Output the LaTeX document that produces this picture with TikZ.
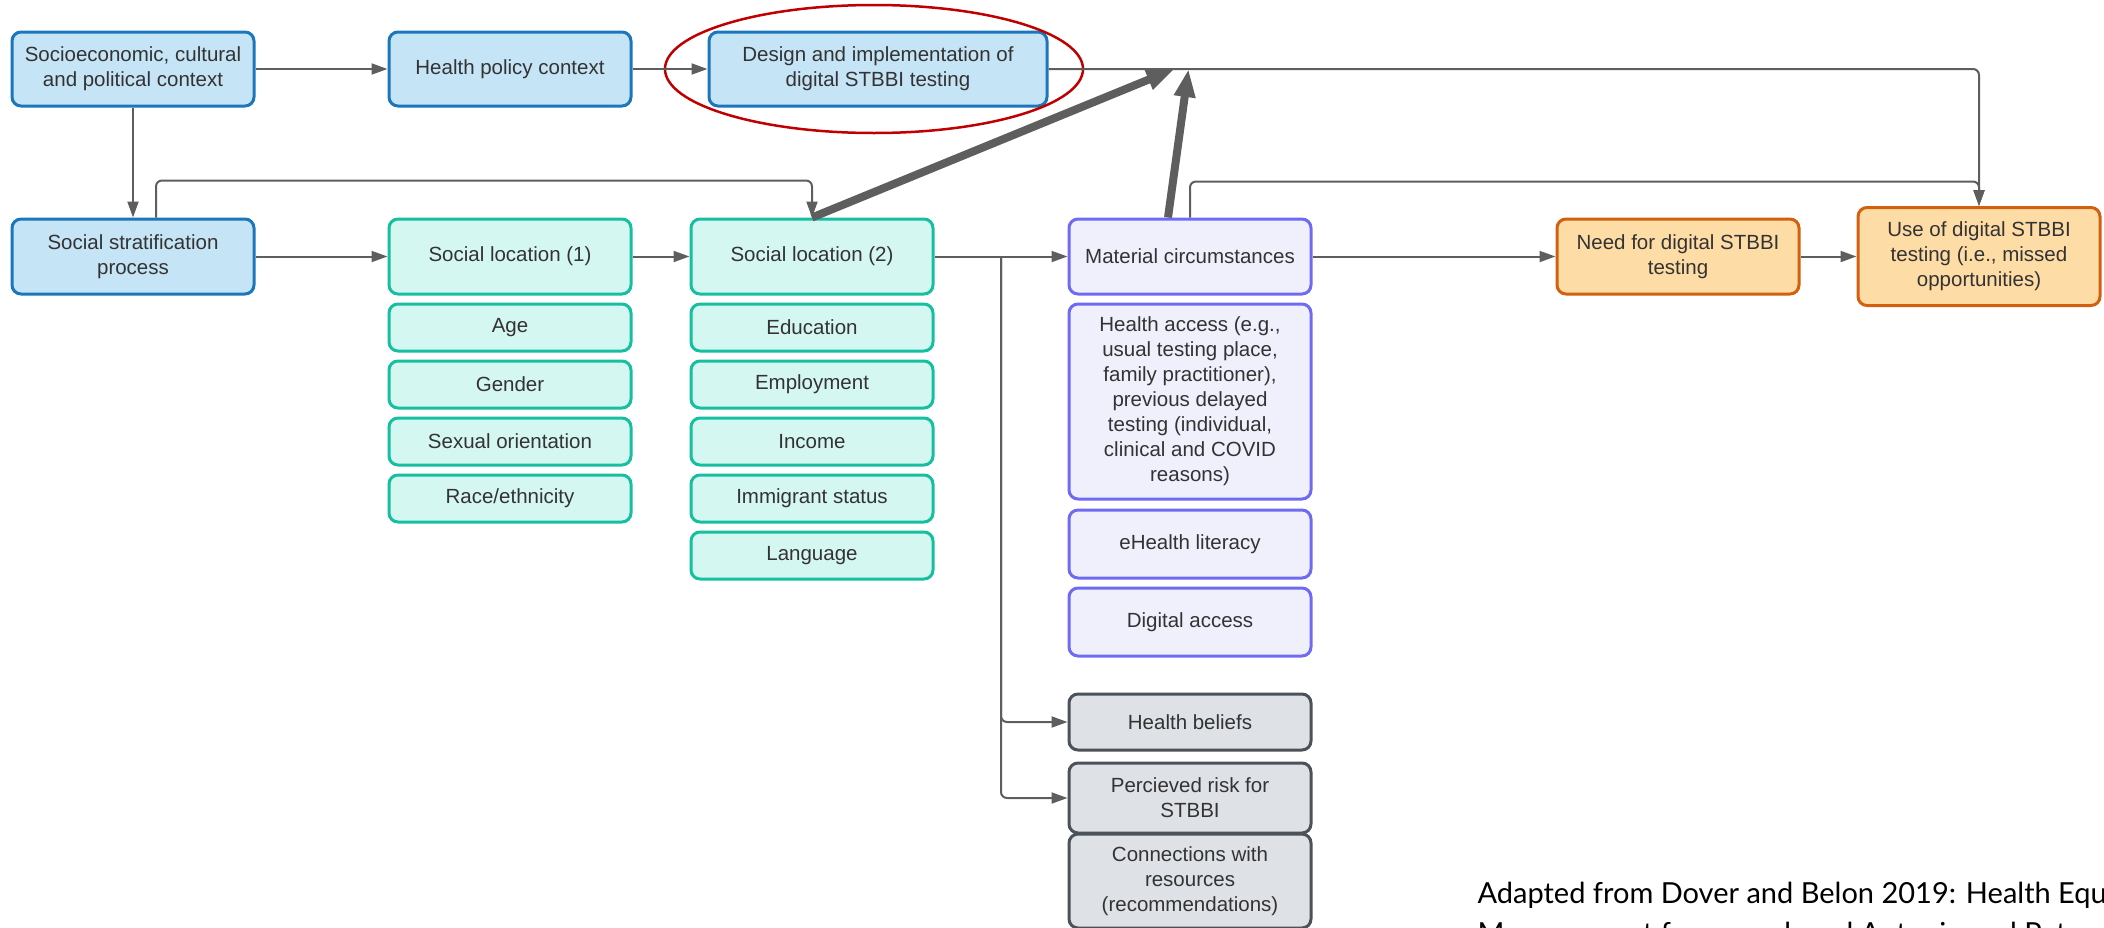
\documentclass[tikz,border=0pt]{standalone}
\usepackage{fontspec}
\setmainfont{Liberation Sans}
\newfontfamily\notefont{Lato}
\usepackage{tikz}
\usetikzlibrary{positioning,arrows.meta,calc,shapes.geometric}
\definecolor{ctxfill}{HTML}{C5E4F6}
\definecolor{ctxline}{HTML}{1B76BC}
\definecolor{locfill}{HTML}{D5F7F2}
\definecolor{locline}{HTML}{15BFA0}
\definecolor{matfill}{HTML}{F0F0FD}
\definecolor{matline}{HTML}{6E6BF2}
\definecolor{psyfill}{HTML}{DEE1E6}
\definecolor{psyline}{HTML}{4B525A}
\definecolor{resfill}{HTML}{FEDCA6}
\definecolor{resline}{HTML}{D2600F}
\definecolor{ink}{HTML}{333333}
\definecolor{linkgray}{HTML}{5E5E5E}
\definecolor{ringred}{HTML}{C00000}

\begin{document}
\begin{tikzpicture}[x=1pt,y=1pt,
  font=\fontsize{20.5}{25}\selectfont, >={Triangle[length=16pt,width=11pt]},
  box/.style={draw,rounded corners=9pt,line width=3pt,align=center,text=ink,
              minimum width=242pt,inner sep=4pt},
  ctx/.style={box,fill=ctxfill,draw=ctxline,minimum height=74pt},
  loc/.style={box,fill=locfill,draw=locline,minimum height=47pt},
  mat/.style={box,fill=matfill,draw=matline,minimum height=68pt},
  psy/.style={box,fill=psyfill,draw=psyline},
  res/.style={box,fill=resfill,draw=resline},
  link/.style={draw=linkgray,line width=2pt,->},
  heavy/.style={draw=linkgray,line width=8pt,-{Triangle[length=28pt,width=20pt]}}]
  \useasboundingbox (0,0) rectangle (2104,-927);
  % --- context row ---
  \node[ctx] (socio) at (133,-69) {Socioeconomic, cultural\\and political context};
  \node[ctx,right=132pt of socio] (policy) {Health policy context};
  \node[ctx,right=75pt of policy,minimum width=338pt] (design) {Design and implementation of\\digital STBBI testing};
  \node[draw=ringred,line width=2.5pt,ellipse,minimum width=418pt,minimum height=128pt]
        (ring) at ($(design)+(-4,0)$) {};
  % --- main pathway row ---
  \node[ctx,minimum height=75pt,below=110pt of socio] (strat) {Social stratification\\process};
  \node[loc,minimum height=75pt,right=132pt of strat] (loc1) {Social location (1)};
  \node[loc,minimum height=75pt,right=57pt of loc1] (loc2) {Social location (2)};
  \node[mat,minimum height=75pt,right=133pt of loc2] (mc) {Material circumstances};
  \node[res,minimum height=75pt,right=243pt of mc] (need) {Need for digital STBBI\\testing};
  \node[res,minimum height=98pt,right=56pt of need] (use) {Use of digital STBBI\\testing (i.e., missed\\opportunities)};
  % --- social location stacks ---
  \node[loc,below=7pt of loc1] (s1) {Age};
  \foreach \lab [count=\i from 2] in {Gender,Sexual orientation,Race/ethnicity}{%
    \pgfmathtruncatemacro{\p}{\i-1}%
    \node[loc,below=7pt of s\p] (s\i) {\lab};}
  \node[loc,below=7pt of loc2] (e1) {Education};
  \foreach \lab [count=\i from 2] in {Employment,Income,Immigrant status,Language}{%
    \pgfmathtruncatemacro{\p}{\i-1}%
    \node[loc,below=7pt of e\p] (e\i) {\lab};}
  % --- material and psychosocial stack ---
  \node[mat,minimum height=195pt,below=7pt of mc] (acc) {Health access (e.g.,\\usual testing place,\\family practitioner),\\previous delayed\\testing (individual,\\clinical and COVID\\reasons)};
  \node[mat,below=8pt of acc] (lit) {eHealth literacy};
  \node[mat,below=7pt of lit] (dig) {Digital access};
  \node[psy,minimum height=56pt,below=35pt of dig] (bel) {Health beliefs};
  \node[psy,minimum height=70pt,below=10pt of bel] (risk) {Percieved risk for\\STBBI};
  \node[psy,minimum height=94pt,below=-2pt of risk] (conn) {Connections with\\resources\\(recommendations)};
  % --- connectors ---
  \draw[link] (socio) -- (policy);
  \draw[link] (policy) -- (design);
  \draw[link] (socio) -- (strat);
  \draw[link] (strat) -- (loc1);
  \draw[link] (loc1) -- (loc2);
  \draw[link] (loc2) -- (mc);
  \draw[link] (mc) -- (need);
  \draw[link] (need) -- (use);
  \draw[link,rounded corners=6pt] ($(strat.north)+(23,0)$) -- ++(0,37) -| (loc2.north);
  \coordinate (fork) at ($(loc2.east)!0.5!(mc.west)$);
  \draw[link,rounded corners=6pt] (fork) |- (bel.west);
  \draw[link,rounded corners=6pt] (fork) |- (risk.west);
  \draw[link,rounded corners=6pt] (design.east) -| (use.north);
  \draw[link,rounded corners=6pt] (mc.north) -- ++(0,36) -| (use.north);
  \coordinate (hitA) at ($(design.east)+(126,0)$);
  \coordinate (hitB) at ($(design.east)+(140,0)$);
  \draw[heavy] (loc2.north) -- (hitA);
  \draw[heavy] ($(mc.north)+(-22,0)$) -- (hitB);
  % --- source note ---
  \node[anchor=base west,align=left,text=black,font=\notefont\fontsize{29}{40}\selectfont]
        (note) at (1474,-943) {Adapted from Dover and Belon 2019: Health Equity\\Measurement framework and Antonio and Petrov};
\end{tikzpicture}
\end{document}
